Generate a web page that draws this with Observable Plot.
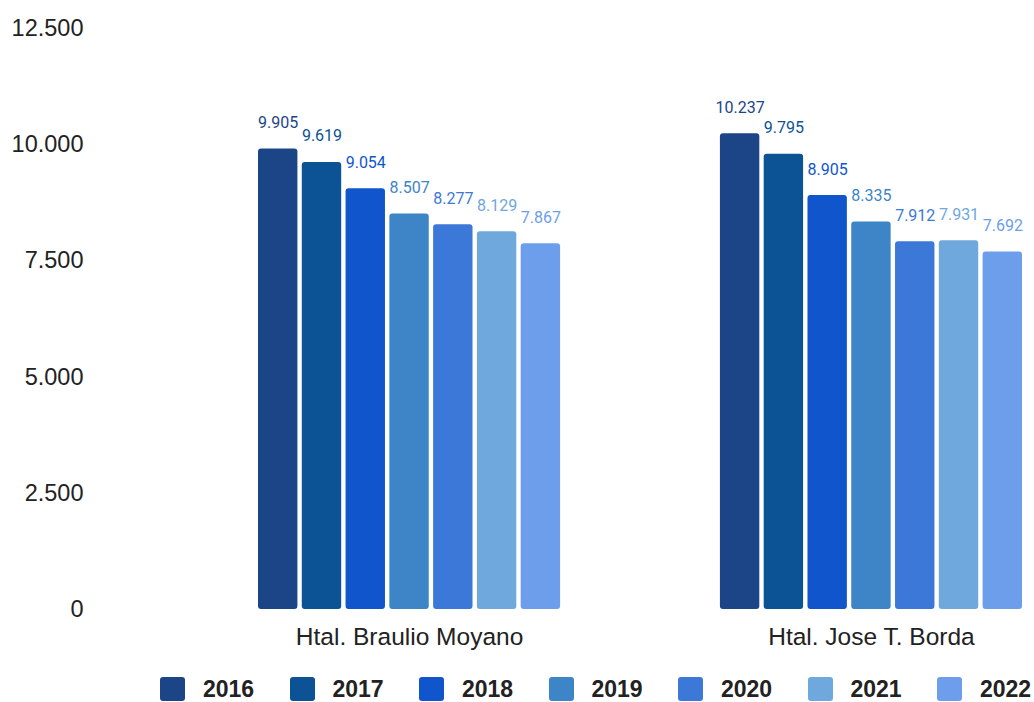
<!DOCTYPE html>
<html>
<head>
<meta charset="utf-8">
<script src="https://cdn.jsdelivr.net/npm/d3@7"></script>
<script src="https://cdn.jsdelivr.net/npm/@observablehq/plot@0.6"></script>
<style>
  html, body { margin: 0; padding: 0; background: #fff; overflow: hidden; }
  #chart svg { display: block; }
  #legend { position: relative; height: 32px; overflow: hidden; font-family: "Liberation Sans", Arial, sans-serif; }
  .item { position: absolute; top: 7px; display: flex; align-items: center; height: 24px; }
  .sw { width: 25px; height: 24px; border-radius: 3px; margin-right: 18px; }
  .lab { font-weight: bold; font-size: 23px; color: #222; line-height: 24px; }
</style>
</head>
<body>
<div id="chart"></div>
<div id="legend"></div>
<script>
const hospitals = ["Htal. Braulio Moyano", "Htal. Jose T. Borda"];
const years = ["2016", "2017", "2018", "2019", "2020", "2021", "2022"];
const moyano = [9905, 9619, 9054, 8507, 8277, 8129, 7867];
const borda = [10237, 9795, 8905, 8335, 7912, 7931, 7692];
const yTicks = [0, 2500, 5000, 7500, 10000, 12500];
const colors = ["#1c4587", "#0b5394", "#1155cc", "#3d85c6", "#3c78d8", "#6fa8dc", "#6d9eeb"];

const data = [];
years.forEach((y, i) => data.push({hospital: hospitals[0], year: y, value: moyano[i]}));
years.forEach((y, i) => data.push({hospital: hospitals[1], year: y, value: borda[i]}));

const loc = d3.formatLocale({decimal: ",", thousands: ".", grouping: [3], currency: ["$", ""]});
const fmt = loc.format(",d");

const chart = Plot.plot({
  width: 1034,
  height: 670,
  marginTop: 28,
  marginBottom: 61,
  marginLeft: 258,
  marginRight: 12,
  style: {fontFamily: "'Liberation Sans', Arial, sans-serif", fontSize: "23.5px", color: "#222", background: "#fff"},
  fx: {domain: hospitals, paddingInner: 0.346, paddingOuter: 0, round: false, axis: null},
  x: {domain: years, paddingInner: 0.1, paddingOuter: 0, round: false, axis: null},
  y: {domain: [0, 12500], ticks: yTicks, tickFormat: fmt, tickSize: 0, tickPadding: 175, label: null},
  color: {domain: years, range: colors},
  marks: [
    Plot.axisFx({anchor: "bottom", label: null, tickSize: 0, tickPadding: 18, fontSize: 24.5}),
    Plot.barY(data, {fx: "hospital", x: "year", y: "value", fill: "year", rx: 3}),
    Plot.text(data, {fx: "hospital", x: "year", y: "value", text: d => fmt(d.value), fill: "year",
      dy: -21, lineAnchor: "bottom", fontFamily: "Roboto, sans-serif", fontSize: 16})
  ]
});
document.getElementById("chart").appendChild(chart);

const legend = document.getElementById("legend");
years.forEach((y, i) => {
  const it = document.createElement("div");
  it.className = "item";
  it.style.left = (160 + i * 129.5) + "px";
  const sw = document.createElement("div");
  sw.className = "sw";
  sw.style.background = colors[i];
  const lb = document.createElement("span");
  lb.className = "lab";
  lb.textContent = y;
  it.appendChild(sw); it.appendChild(lb);
  legend.appendChild(it);
});
</script>
</body>
</html>
